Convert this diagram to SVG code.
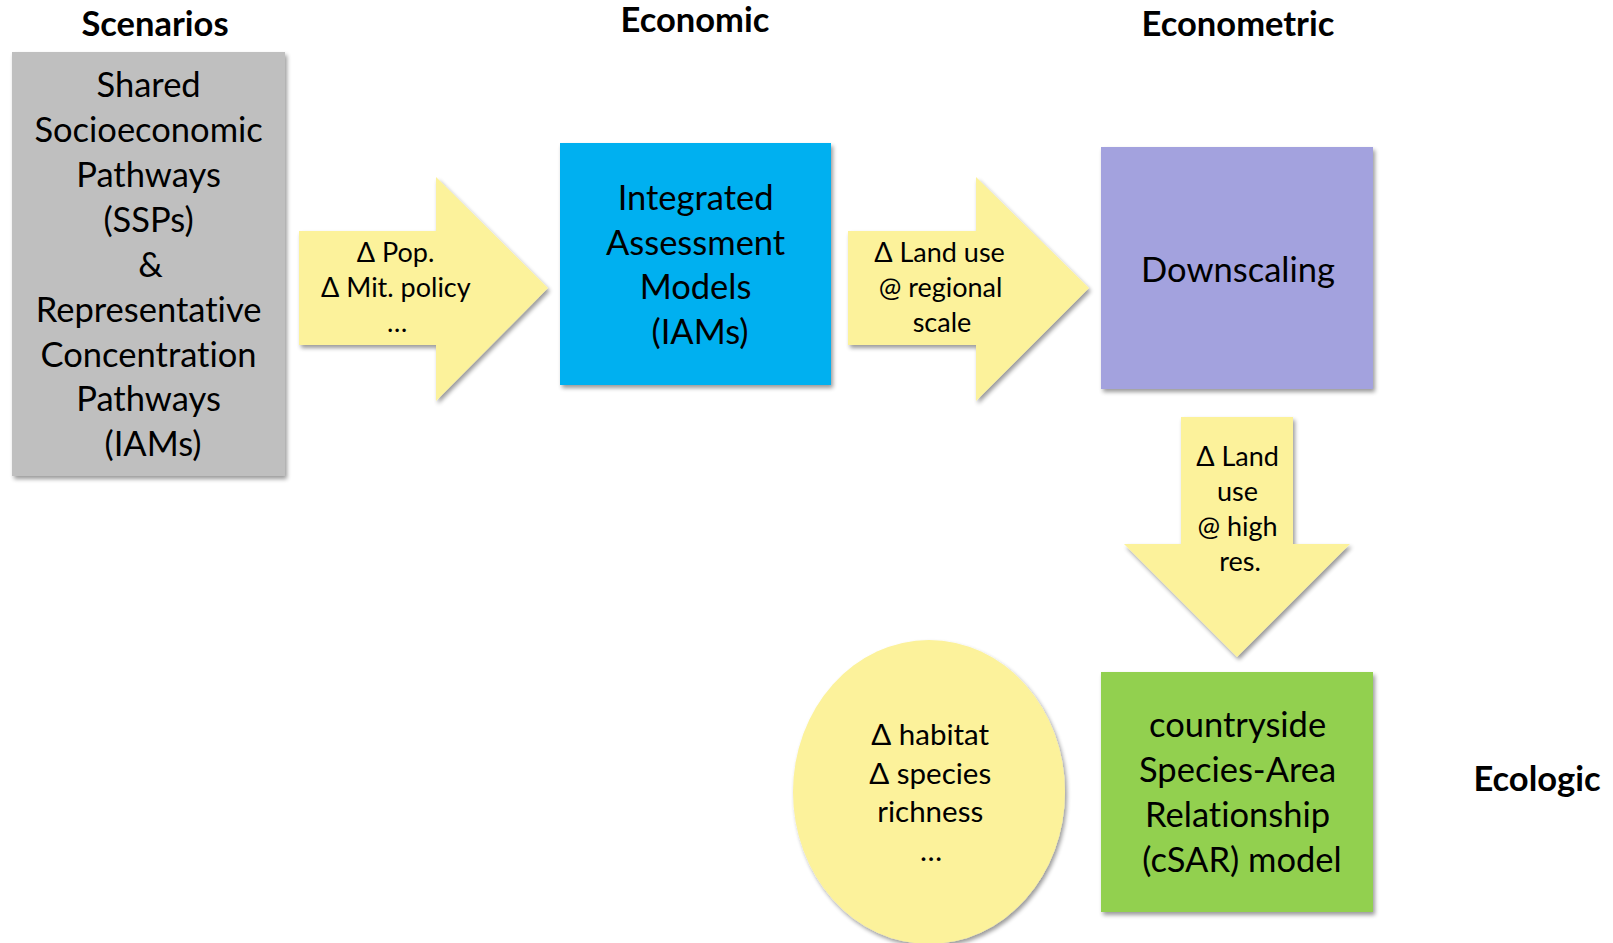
<svg xmlns="http://www.w3.org/2000/svg" width="1613" height="943" viewBox="0 0 1613 943">
  <style>
    text { font-variant-ligatures: no-common-ligatures; }
    .hdr { font-family: Lato, "Open Sans", sans-serif; font-weight: 700; font-size: 34.5px; fill: #000; text-anchor: middle; }
    .big { font-family: Lato, "Open Sans", sans-serif; font-size: 34.5px; fill: #000; text-anchor: middle; }
    .mid { font-family: Lato, "Open Sans", sans-serif; font-size: 29.5px; fill: #000; text-anchor: middle; }
    .sm { font-family: Lato, "Open Sans", sans-serif; font-size: 27px; fill: #000; text-anchor: middle; }
    .flow { fill: #fcf29b; }
  </style>
  <defs>
    <filter id="shadow" x="-10%" y="-10%" width="125%" height="125%">
      <feGaussianBlur in="SourceAlpha" stdDeviation="2.2"/>
      <feOffset dx="2" dy="3" result="blur"/>
      <feComponentTransfer><feFuncA type="linear" slope="0.4"/></feComponentTransfer>
      <feMerge><feMergeNode/><feMergeNode in="SourceGraphic"/></feMerge>
    </filter>
  </defs>
  <rect width="1613" height="943" fill="#fff"/>

  <!-- column headings -->
  <g id="headings">
    <text class="hdr" x="155" y="36">Scenarios</text>
    <text class="hdr" x="695" y="32">Economic</text>
    <text class="hdr" x="1238" y="36">Econometric</text>
    <text class="hdr" x="1537" y="791">Ecologic</text>
  </g>

  <!-- scenario inputs -->
  <g id="node-scenarios">
    <rect x="12" y="52" width="273" height="424" fill="#bfbfbf" filter="url(#shadow)"/>
    <text class="big">
      <tspan x="153" y="97">Shared</tspan>
      <tspan x="153" y="142">Socioeconomic</tspan>
      <tspan x="153" y="187">Pathways</tspan>
      <tspan x="153" y="232">(SSPs)</tspan>
      <tspan x="155" y="277">&amp;</tspan>
      <tspan x="153" y="322">Representative</tspan>
      <tspan x="153" y="367">Concentration</tspan>
      <tspan x="153" y="411">Pathways</tspan>
      <tspan x="153" y="456">(IAMs)</tspan>
    </text>
  </g>

  <!-- economic models -->
  <g id="node-iam">
    <rect x="560" y="143" width="271" height="242" fill="#00b0f0" filter="url(#shadow)"/>
    <text class="big">
      <tspan x="700" y="210">Integrated</tspan>
      <tspan x="700" y="255">Assessment</tspan>
      <tspan x="700" y="299">Models</tspan>
      <tspan x="700" y="344">(IAMs)</tspan>
    </text>
  </g>

  <!-- downscaling -->
  <g id="node-downscaling">
    <rect x="1101" y="147" width="272" height="242" fill="#a3a2de" filter="url(#shadow)"/>
    <text class="big" x="1238" y="282">Downscaling</text>
  </g>

  <!-- ecological model -->
  <g id="node-csar">
    <rect x="1101" y="672" width="272" height="240" fill="#92d050" filter="url(#shadow)"/>
    <text class="big">
      <tspan x="1242" y="737">countryside</tspan>
      <tspan x="1242" y="782">Species-Area</tspan>
      <tspan x="1242" y="827">Relationship</tspan>
      <tspan x="1242" y="872">(cSAR) model</tspan>
    </text>
  </g>

  <!-- biodiversity outputs -->
  <g id="node-outputs">
    <ellipse class="flow" cx="929" cy="792" rx="136" ry="152" filter="url(#shadow)"/>
    <text class="mid">
      <tspan x="934" y="745">Δ habitat</tspan>
      <tspan x="934" y="784">Δ species</tspan>
      <tspan x="934" y="822">richness</tspan>
      <tspan x="931" y="861">…</tspan>
    </text>
  </g>

  <!-- block arrows carrying the exchanged quantities -->
  <g id="connectors">
    <g id="arrow-scenarios-iam">
      <polygon class="flow" points="299,231 436,231 436,177 548,288 436,401 436,345 299,345" filter="url(#shadow)"/>
      <text class="sm">
        <tspan x="399" y="262">Δ Pop.</tspan>
        <tspan x="399" y="297">Δ Mit. policy</tspan>
        <tspan x="397" y="332">…</tspan>
      </text>
    </g>
    <g id="arrow-iam-downscaling">
      <polygon class="flow" points="848,231 976,231 976,177 1089,288 976,401 976,345 848,345" filter="url(#shadow)"/>
      <text class="sm">
        <tspan x="943" y="262">Δ Land use</tspan>
        <tspan x="944" y="297">@ regional</tspan>
        <tspan x="942" y="332">scale</tspan>
      </text>
    </g>
    <g id="arrow-downscaling-csar">
      <polygon class="flow" points="1181,417 1293,417 1293,544 1350,544 1237,657 1124,544 1181,544" filter="url(#shadow)"/>
      <text class="sm">
        <tspan x="1241" y="466">Δ Land</tspan>
        <tspan x="1241" y="501">use</tspan>
        <tspan x="1241" y="536">@ high</tspan>
        <tspan x="1240" y="571">res.</tspan>
      </text>
    </g>
  </g>
</svg>
